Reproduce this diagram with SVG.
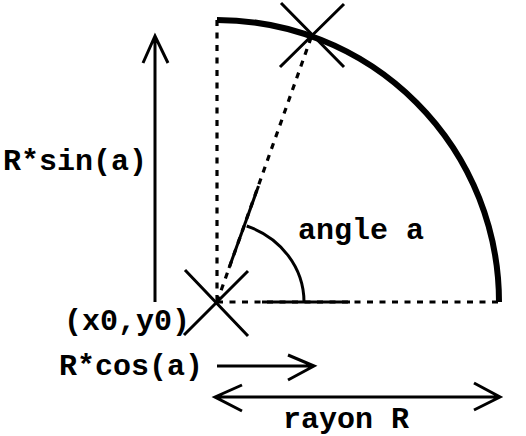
<svg xmlns="http://www.w3.org/2000/svg" width="526" height="436" viewBox="0 0 526 436">
<style>
.ln{stroke:#000;stroke-width:3;fill:none}
.ds{stroke:#000;stroke-width:3.2;fill:none;stroke-dasharray:6 6.5}
.tx{font-family:"Liberation Mono","Courier New",monospace;font-weight:bold;font-size:30px;fill:#000}
</style>
<rect width="526" height="436" fill="#fff"/>
<g id="quarter-circle">
<path d="M217,20 A282,282 0 0 1 499,302" stroke="#000" stroke-width="6" fill="none"/>
</g>
<g id="connectors">
<line class="ds" x1="217" y1="20" x2="217" y2="302"/>
<line class="ds" x1="217" y1="302" x2="499" y2="302"/>
<line class="ds" x1="217" y1="302" x2="312" y2="35"/>
<line class="ln" x1="229" y1="268" x2="258.5" y2="186"/>
<line class="ln" x1="262" y1="302" x2="350" y2="302"/>
<path class="ln" stroke-width="2.5" d="M304,302 A87,81 0 0 0 246.7,226"/>
<path class="ln" d="M155,302 L155,37 M143,63 L155,36 L168,63"/>
<path class="ln" d="M217,366 L314,366 M288,355 L314,366 L288,380"/>
<path class="ln" d="M215,397 L500,397 M242,385 L215,397 L242,411 M474,383 L500,397 L474,410"/>
</g>
<g id="point-a">
<path class="ln" d="M281,3 L344,67 M344,4 L280,67"/>
</g>
<g id="point-origin">
<path class="ln" d="M185,270 L248,336 M248,271 L184,335"/>
</g>
<g id="labels">
<text class="tx" x="3" y="170">R*sin(a)</text>
<text class="tx" x="298" y="239">angle a</text>
<text class="tx" x="64" y="330">(x0,y0)</text>
<text class="tx" x="59" y="375">R*cos(a)</text>
<text class="tx" x="283" y="428">rayon R</text>
</g>
</svg>
